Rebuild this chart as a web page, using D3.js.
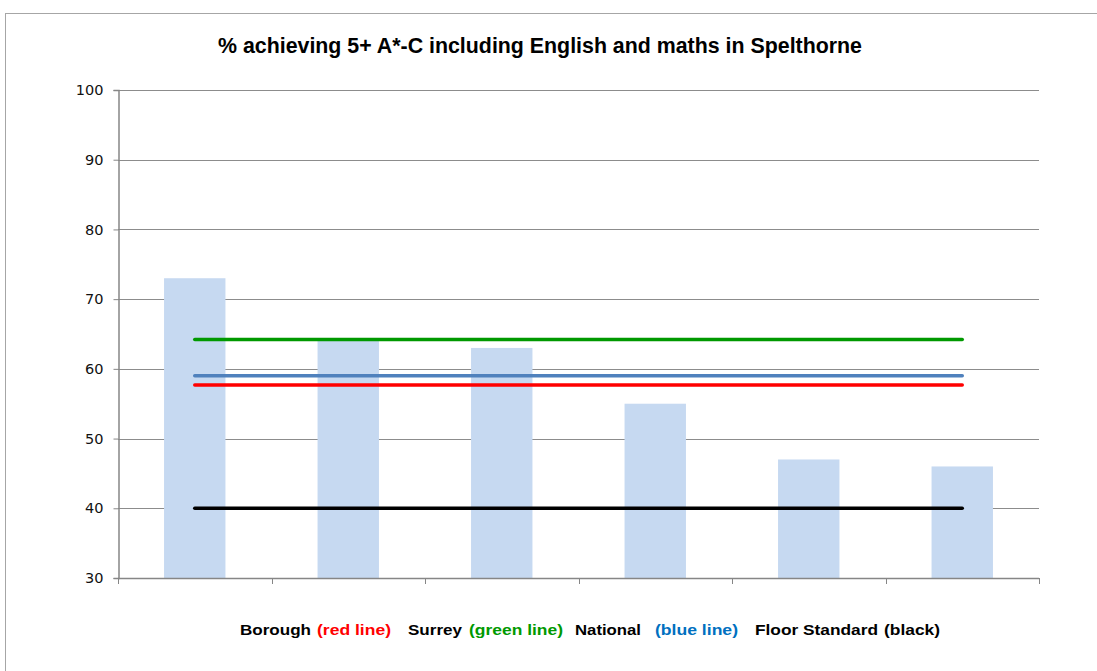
<!DOCTYPE html>
<html><head><meta charset="utf-8">
<script src="https://cdn.jsdelivr.net/npm/d3@7"></script>
<style>body{margin:0;background:#fff}svg{display:block}</style>
</head><body>
<svg id="c" width="1097" height="671"></svg>
<script>
const categories = ["School 1","School 2","School 3","School 4","School 5","School 6"];
const schoolValues = [73, 64, 63, 55, 47, 46];
const boroughValue = 57.7;
const surreyValue = 64.2;
const nationalValue = 59.0;
const floorStandardValue = 40;
const yTicks = [30,40,50,60,70,80,90,100];
const titleText = "% achieving 5+ A*-C including English and maths in Spelthorne";
const legendParts = [
  {t:"Borough", c:"#000", x:240, w:71},
  {t:"(red line)", c:"#FF0000", x:317, w:74},
  {t:"Surrey", c:"#000", x:408, w:54},
  {t:"(green line)", c:"#009900", x:469, w:94},
  {t:"National", c:"#000", x:575, w:66},
  {t:"(blue line)", c:"#0070C0", x:655, w:83},
  {t:"Floor Standard", c:"#000", x:755, w:123},
  {t:"(black)", c:"#000", x:884, w:56}
];

const svg = d3.select("#c");
svg.append("rect").attr("x",5.5).attr("y",13.5).attr("width",1200).attr("height",800)
  .attr("fill","#fff").attr("stroke","#a6a6a6").attr("stroke-width",1);

const L=118, R=1039, T=90, B=578;
const x = d3.scaleBand().domain(categories).range([L,R]).paddingInner(0.6).paddingOuter(0.3);
const xc = d3.scalePoint().domain(categories).range([L,R]).padding(0.5);
const y = d3.scaleLinear().domain([30,100]).range([B,T]);

// gridlines
svg.append("g").selectAll("line").data(yTicks.filter(d=>d>30)).join("line")
  .attr("x1",L).attr("x2",R).attr("y1",d=>Math.round(y(d))+0.5).attr("y2",d=>Math.round(y(d))+0.5)
  .attr("stroke","#8c8c8c").attr("stroke-width",1);

// bars
svg.append("g").selectAll("rect").data(schoolValues).join("rect")
  .attr("x",(d,i)=>x(categories[i])).attr("width",x.bandwidth())
  .attr("y",d=>y(d)).attr("height",d=>B-y(d)).attr("fill","#C6D9F1");

// y axis
const yAxis = d3.axisLeft(y).tickValues(yTicks).tickSize(5).tickFormat(d3.format("d"));
const gy = svg.append("g").attr("transform",`translate(${L+0.5},0)`).call(yAxis);
gy.select(".domain").attr("stroke","#868686").attr("stroke-width",1.5);
gy.selectAll(".tick line").attr("stroke","#868686");
gy.selectAll(".tick text").attr("font-family","DejaVu Sans, Verdana, sans-serif").attr("font-size",14.5)
  .attr("fill","#111").attr("x",-15);

// x axis
const bandStep = (R-L)/categories.length;
const xTickPos = d3.range(categories.length+1).map(i=>L+i*bandStep);
const gx = svg.append("g");
gx.append("line").attr("x1",L).attr("x2",R).attr("y1",B+0.5).attr("y2",B+0.5).attr("stroke","#868686").attr("stroke-width",1.5);
gx.selectAll("line.t").data(xTickPos).join("line").attr("class","t")
  .attr("x1",d=>Math.round(d)+0.5).attr("x2",d=>Math.round(d)+0.5).attr("y1",B).attr("y2",B+6).attr("stroke","#868686");

// reference lines
const refs = [
  {v:surreyValue, c:"#009900", w:3.5},
  {v:nationalValue, c:"#4F81BD", w:3.5},
  {v:boroughValue, c:"#FF0000", w:3.5},
  {v:floorStandardValue, c:"#000000", w:3.5}
];
const line = d3.line().x(d=>xc(d[0])).y(d=>y(d[1]));
refs.forEach(r=>{
  svg.append("path").datum(categories.map(c=>[c,r.v])).attr("d",line)
    .attr("fill","none").attr("stroke",r.c).attr("stroke-width",r.w).attr("stroke-linecap","round");
});

// title
svg.append("text").attr("x",218).attr("y",53).text(titleText)
  .attr("font-family","Liberation Sans Narrow, Liberation Sans, Arial, sans-serif").attr("font-weight","bold")
  .attr("font-size",22).attr("textLength",644).attr("lengthAdjust","spacingAndGlyphs").attr("fill","#000");

// legend text
svg.append("g").selectAll("text").data(legendParts).join("text")
  .attr("x",d=>d.x).attr("y",635).text(d=>d.t).attr("fill",d=>d.c)
  .attr("font-family","Liberation Sans, Arial, sans-serif").attr("font-weight","bold").attr("font-size",15.5)
  .attr("textLength",d=>d.w).attr("lengthAdjust","spacingAndGlyphs");
</script>
</body></html>
